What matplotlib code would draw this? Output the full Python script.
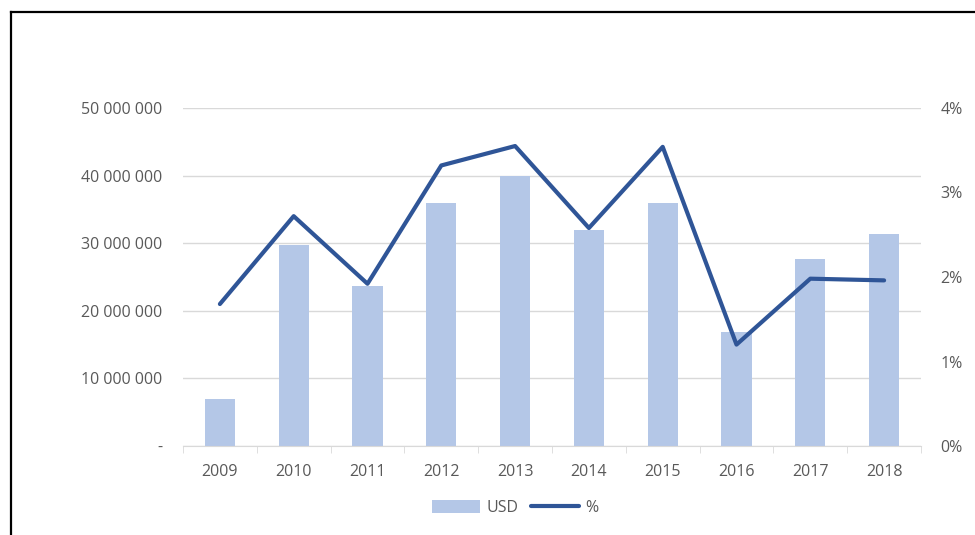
import matplotlib.pyplot as plt
from matplotlib.lines import Line2D
from matplotlib.ticker import FuncFormatter, MultipleLocator
import numpy as np

years = ['2009', '2010', '2011', '2012', '2013', '2014', '2015', '2016', '2017', '2018']
usd = [7.0e6, 29.8e6, 23.7e6, 36.0e6, 39.9e6, 32.0e6, 36.0e6, 16.8e6, 27.7e6, 31.3e6]
pct = [1.68, 2.72, 1.92, 3.32, 3.55, 2.58, 3.54, 1.20, 1.98, 1.96]

plt.rcParams['font.family'] = ['Open Sans', 'DejaVu Sans']
txt = '#595959'
grid = '#D9D9D9'
fs = 11.5

fig = plt.figure(figsize=(9.75, 5.35), dpi=100)
ax = fig.add_axes([183/975, 1 - 446/535, (921-183)/975, (446-108)/535])
ax2 = ax.twinx()

x = np.arange(len(years))
ax.bar(x, usd, width=0.41, color='#B4C7E7', label='USD', zorder=2)
ax2.plot(x, pct, color='#2F5597', lw=3, solid_capstyle='round', label='%', zorder=3)

ax.set_xlim(-0.5, len(years) - 0.5)
ax.set_ylim(0, 50e6)
ax2.set_ylim(0, 4)
ax.yaxis.set_major_locator(MultipleLocator(10e6))
ax2.yaxis.set_major_locator(MultipleLocator(1))

def usd_fmt(v, p):
    if v == 0:
        return '-'
    return '{:,.0f}'.format(v).replace(',', ' ')

ax.yaxis.set_major_formatter(FuncFormatter(usd_fmt))
ax2.yaxis.set_major_formatter(FuncFormatter(lambda v, p: '%d%%' % v))

ax.grid(axis='y', color=grid, lw=1, zorder=0)
ax.set_axisbelow(True)
for a in (ax, ax2):
    for s in a.spines.values():
        s.set_visible(False)
ax.spines['bottom'].set_visible(True)
ax.spines['bottom'].set_color(grid)

ax.set_xticks(x)
ax.set_xticklabels(years)
ax.set_xticks(np.arange(-0.5, len(years)), minor=True)
ax.tick_params(axis='x', which='major', length=0, pad=13, labelsize=fs, labelcolor=txt)
ax.tick_params(axis='x', which='minor', length=5, color=grid)
ax.tick_params(axis='y', length=0, pad=15, labelsize=fs, labelcolor=txt)
ax2.tick_params(axis='y', length=0, pad=14, labelsize=fs, labelcolor=txt)

h1, l1 = ax.get_legend_handles_labels()
h2, l2 = ax2.get_legend_handles_labels()
fig.legend(h1 + h2, l1 + l2, loc='center', bbox_to_anchor=(515/975, 1 - 508/535),
           ncol=2, frameon=False, fontsize=fs, labelcolor=txt,
           handlelength=3.0, handleheight=0.8, columnspacing=0.8, handletextpad=0.4)

# outer frame (left and top edges visible)
fig.add_artist(Line2D([11/975, 11/975], [0, 1 - 12/535], transform=fig.transFigure, color='black', lw=1.6))
fig.add_artist(Line2D([11/975, 1], [1 - 12/535, 1 - 12/535], transform=fig.transFigure, color='black', lw=1.6))

fig.savefig('out.png', dpi=100)
